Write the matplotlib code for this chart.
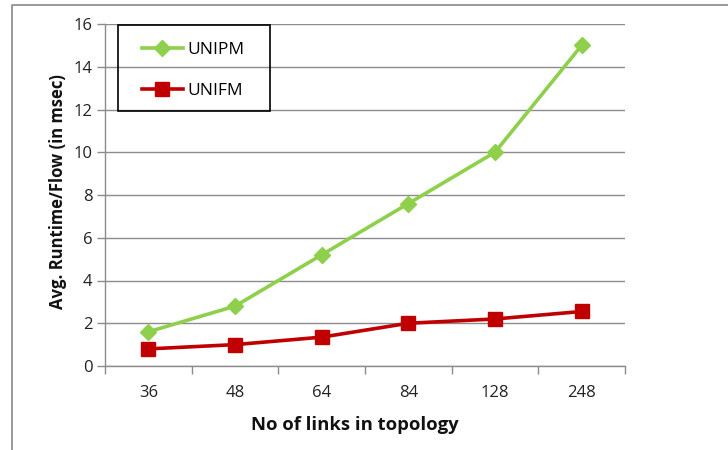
import matplotlib.pyplot as plt
from matplotlib.lines import Line2D
from matplotlib.patches import Rectangle

plt.rcParams['font.family'] = ['Open Sans', 'DejaVu Sans']

links = ['36', '48', '64', '84', '128', '248']
unipm = [1.6, 2.8, 5.2, 7.6, 10.0, 15.0]
unifm = [0.8, 1.0, 1.35, 2.0, 2.2, 2.55]

fig = plt.figure(figsize=(7.28, 4.5), dpi=100)
ax = fig.add_axes([105 / 728, 1 - 366 / 450, 520 / 728, 342 / 450])

x = range(len(links))
ax.plot(x, unipm, color='#8ED04B', lw=2.6, marker='D', markersize=8,
        label='UNIPM')
ax.plot(x, unifm, color='#C00000', lw=2.6, marker='s', markersize=10,
        label='UNIFM')

ax.set_xlim(-0.5, len(links) - 0.5)
ax.set_ylim(0, 16)
ax.set_yticks(range(0, 17, 2))
ax.set_xticks([i - 0.5 for i in range(len(links) + 1)], minor=False)
ax.set_xticklabels([])
ax.set_xticks(list(x), minor=True)
ax.set_xticklabels(links, minor=True)
ax.tick_params(axis='x', which='minor', length=0, pad=14, labelsize=12,
               labelcolor='#222222')
ax.tick_params(axis='x', which='major', length=6, color='#8c8c8c', width=1)
ax.tick_params(axis='y', length=6, color='#8c8c8c', width=1, labelsize=12,
               labelcolor='#222222', pad=3)

ax.grid(axis='y', color='#8c8c8c', lw=1)
ax.set_axisbelow(True)
for s in ['top', 'right']:
    ax.spines[s].set_visible(False)
for s in ['left', 'bottom']:
    ax.spines[s].set_color('#8c8c8c')
    ax.spines[s].set_linewidth(1)

# legend box drawn separately (Excel style, wide padding, no fill)
ax.add_patch(Rectangle((13 / 520, 255 / 342), 152 / 520, 86 / 342,
                       transform=ax.transAxes, fill=False, edgecolor='black',
                       lw=1.2, clip_on=False, zorder=5))
ax.legend(loc='upper left', bbox_to_anchor=(37 / 520, 324 / 342), fontsize=12.5,
          frameon=False, borderpad=0, labelspacing=1.42,
          handlelength=2.36, handletextpad=0.23, borderaxespad=0)

fig.text(58 / 728, 1 - 192 / 450, 'Avg. Runtime/Flow (in msec)', rotation=90,
         ha='center', va='center', fontsize=12, fontweight='bold',
         color='#111111')
fig.text(355 / 728, 1 - 425 / 450, 'No of links in topology', ha='center',
         va='center', fontsize=13.3, fontweight='bold', color='#111111')

# outer chart border (clipped by the image on the right and bottom)
fig.add_artist(Line2D([12 / 728, 12 / 728, 1], [0, 1 - 5 / 450, 1 - 5 / 450],
                      transform=fig.transFigure, color='#888888', lw=1.2))

fig.savefig('out.png', dpi=100)
